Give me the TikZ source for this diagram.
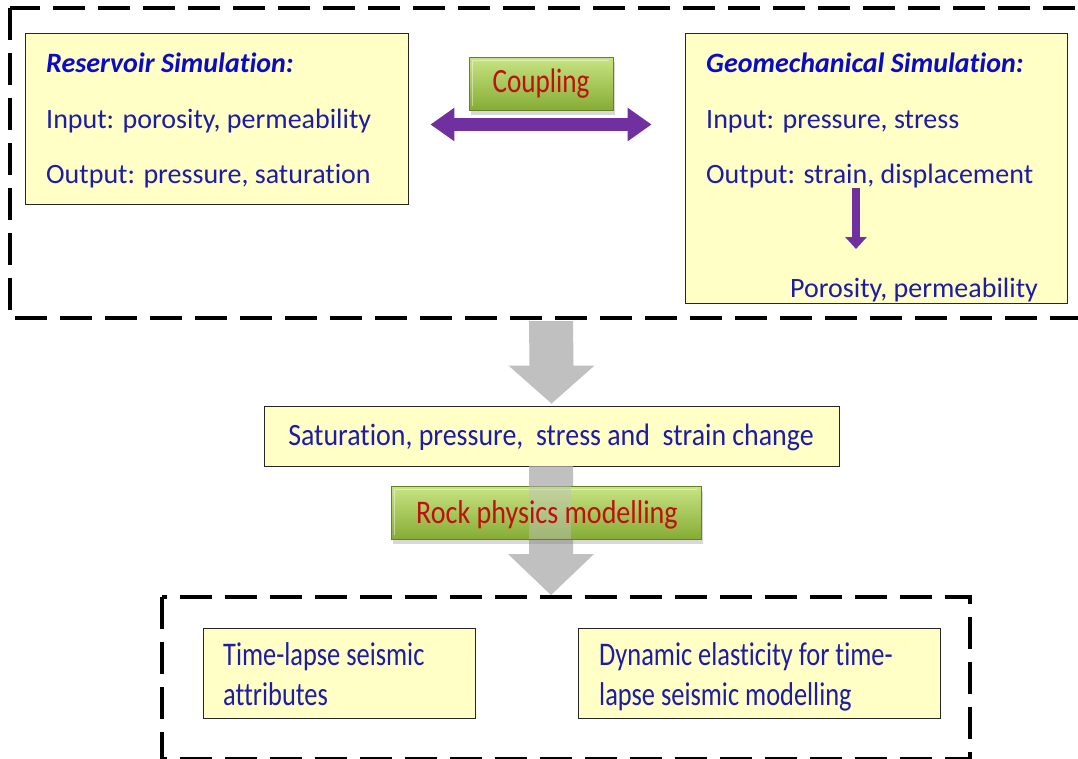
\documentclass[tikz,border=0pt]{standalone}
\usepackage{fontspec}
\usepackage{graphicx}
\setmainfont{Carlito}[Ligatures={NoCommon,NoContextual},RawFeature={-liga;-clig;-calt}]
\usetikzlibrary{arrows.meta,calc,shadows}
\definecolor{txtblue}{HTML}{1C1CA8}
\definecolor{ttlblue}{HTML}{0A0ACD}
\definecolor{boxyel}{HTML}{FFFFC6}
\definecolor{btntop}{HTML}{C8E484}
\definecolor{btnbot}{HTML}{86AC34}
\definecolor{btnred}{HTML}{C0100C}
\definecolor{purp}{HTML}{7030A0}
\definecolor{arrgray}{HTML}{C0C0C0}
\tikzset{
 ybox/.style={draw=black!85, line width=0.9pt, fill=boxyel, rectangle, inner sep=0pt},
 dashbox/.style={draw=black, line width=4pt, dash pattern=on 32pt off 13pt},
 btn/.style={rectangle, draw=btnbot!75!black, line width=0.6pt, top color=btntop, bottom color=btnbot, text=btnred, inner sep=0pt,
   drop shadow={shadow xshift=2pt, shadow yshift=-5pt, opacity=0.3}},
 bevel/.style={draw=white, line width=1.2pt, opacity=0.45},
 txt/.style={text=txtblue, font=\fontsize{28}{32}\selectfont, anchor=base west, inner sep=0pt},
 ttl/.style={text=ttlblue, font=\fontsize{28}{32}\selectfont\bfseries\itshape, anchor=base west, inner sep=0pt},
 purparrow/.style={draw=purp, line width=13pt, {Triangle[length=24pt,width=32pt]}-{Triangle[length=24pt,width=32pt]}},
 purpdown/.style={draw=purp, line width=8pt, -{Triangle[length=12pt,width=21pt]}},
 grayarrow/.style={fill=arrgray},
}
\newcommand{\blockarrow}[3]{% start, tip, head start
  \fill[grayarrow] ($(#1)+(-22,0)$) -- ($(#1)+(22,0)$) -- ($(#3)+(22,0)$) -- ($(#3)+(43,0)$)
    -- (#2) -- ($(#3)+(-43,0)$) -- ($(#3)+(-22,0)$) -- cycle;}
\newcommand{\bevelbtn}[1]{%
  \draw[bevel] ($(#1.south west)+(4,-4)$) -- ($(#1.north west)+(4,4)$) -- ($(#1.north east)+(-4,4)$);}
\begin{document}
\begin{tikzpicture}[x=1pt,y=-1pt]
\useasboundingbox (0,0) rectangle (1078,758);
\clip (0,0) rectangle (1078,758);
\fill[white] (0,0) rectangle (1078,758);

% top dashed group
\draw[dashbox] (10,8) rectangle (1110,318);
\coordinate (topb) at (551,321);

% reservoir box
\node[ybox, minimum width=383pt, minimum height=171pt] (res) at (216.5,118.5) {};
\node[ttl] (resT) at (46,72) {Reservoir Simulat{}ion:};
\node[txt] (resI) at (46,128) {Input: porosity, permeability};
\node[txt] (resO) at (46,183) {Output: pressure, saturat{}ion};

% geomechanical box
\node[ybox, minimum width=382pt, minimum height=270pt] (geo) at (876,168) {};
\node[ttl] (geoT) at (706,72) {Geomechanical Simulat{}ion:};
\node[txt] (geoI) at (706,128) {Input: pressure, stress};
\node[txt] (geoO) at (706,183) {Output: strain, displacement};
\node[txt] (geoP) at (790,297) {Porosity, permeability};
\coordinate (pdS) at (856,188);
\coordinate (pdE) at (856,249);
\draw[purpdown] (pdS) -- (pdE);

% coupling
\node[btn, minimum width=144pt, minimum height=53pt] (coup) at (541,83.5)
  {\scalebox{0.8}[1]{\fontsize{34}{36}\selectfont Coupling}};
\bevelbtn{coup}
\coordinate (cL) at ($(res.east)+(22,6)$);
\coordinate (cR) at ($(geo.west)+(-33,-43.5)$);
\draw[purparrow] (cL) -- (cR);

% saturation box
\node[ybox, minimum width=575pt, minimum height=60pt] (sat) at (551.5,436) {};
\node[text=txtblue, anchor=base, inner sep=0pt] (satT) at (551,445)
  {\scalebox{0.9}[1]{\fontsize{31}{34}\selectfont Saturat{}ion, pressure,\ \ stress and\ \ strain change}};

% gray arrow 1
\coordinate (a1tip) at ($(sat.north)+(0,-2)$);
\coordinate (a1head) at ($(a1tip)+(0,-38)$);
\blockarrow{topb}{a1tip}{a1head}

% gray arrow 2 (under button)
\coordinate (a2tip) at (551,595);
\coordinate (a2head) at ($(a2tip)+(0,-41)$);
\coordinate (a2s) at ($(sat.south)+(-0.5,0)$);
\blockarrow{a2s}{a2tip}{a2head}

% rock physics button
\node[btn, minimum width=310pt, minimum height=53pt] (rock) at (546,512.5) {};
\bevelbtn{rock}
\fill[arrgray, opacity=0.45] ($(rock.north)+(-17,0)$) rectangle ($(rock.south)+(25,0)$);
\node[text=btnred, anchor=base, inner sep=0pt] (rockT) at (547,523)
  {\scalebox{0.85}[1]{\fontsize{33}{36}\selectfont Rock physics modelling}};

% bottom dashed group
\draw[dashbox] (162,597) rectangle (970,759);

\node[ybox, minimum width=272pt, minimum height=90pt] (tl) at (339,673) {};
\node[text=txtblue, anchor=base west, inner sep=0pt] (tlT) at (223,665)
  {\scalebox{0.8}[1]{\fontsize{33}{40}\selectfont Time-lapse seismic}};
\node[text=txtblue, anchor=base west, inner sep=0pt] (tlT2) at (223,705)
  {\scalebox{0.8}[1]{\fontsize{33}{40}\selectfont attributes}};

\node[ybox, minimum width=362pt, minimum height=90pt] (dyn) at (759,673) {};
\node[text=txtblue, anchor=base west, inner sep=0pt] (dynT) at (599,665)
  {\scalebox{0.8}[1]{\fontsize{33}{40}\selectfont Dynamic elasticity for time-}};
\node[text=txtblue, anchor=base west, inner sep=0pt] (dynT2) at (599,705)
  {\scalebox{0.8}[1]{\fontsize{33}{40}\selectfont lapse seismic modelling}};
\end{tikzpicture}
\end{document}
